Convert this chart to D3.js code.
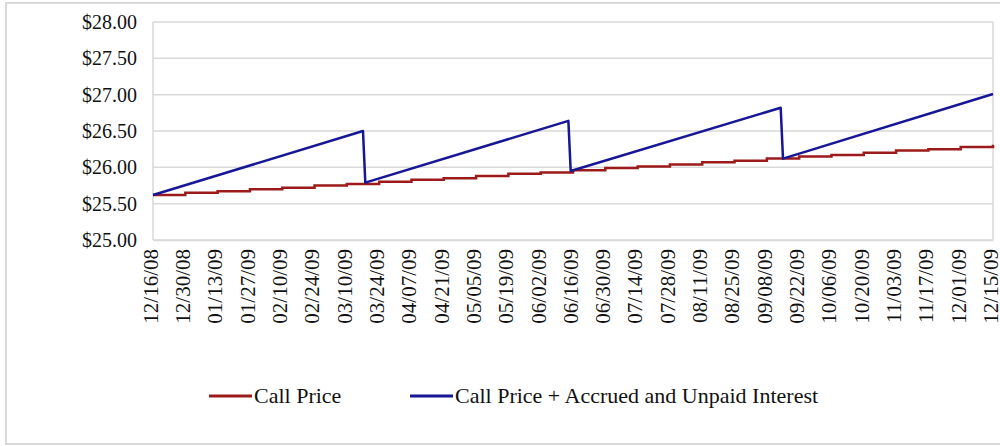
<!DOCTYPE html>
<html>
<head>
<meta charset="utf-8">
<script src="https://cdn.jsdelivr.net/npm/d3@7"></script>
<style>
  body { margin: 0; background: #fff; }
  svg { display: block; font-family: "Liberation Serif", "DejaVu Serif", serif; }
</style>
</head>
<body>
<svg id="svg"></svg>
<script>
// tick labels on the x axis (every two weeks)
var tickLabels = ['12/16/08', '12/30/08', '01/13/09', '01/27/09', '02/10/09', '02/24/09', '03/10/09',
  '03/24/09', '04/07/09', '04/21/09', '05/05/09', '05/19/09', '06/02/09', '06/16/09', '06/30/09',
  '07/14/09', '07/28/09', '08/11/09', '08/25/09', '09/08/09', '09/22/09', '10/06/09', '10/20/09',
  '11/03/09', '11/17/09', '12/01/09', '12/15/09'];

var yTicks = [25, 25.5, 26, 26.5, 27, 27.5, 28];

// Call Price, read at each biweekly date
var callDates = tickLabels;
var callPrice = [25.62, 25.65, 25.67, 25.70, 25.72, 25.75, 25.77, 25.80, 25.83, 25.85, 25.88, 25.91,
  25.93, 25.96, 25.99, 26.01, 26.04, 26.07, 26.09, 26.12, 26.15, 26.17, 26.20, 26.23, 26.25, 26.28, 26.31];

// Call Price + Accrued and Unpaid Interest (resets on coupon dates)
var accruedDates = ['12/16/08', '03/17/09', '03/18/09', '06/14/09', '06/15/09', '09/14/09', '09/15/09', '12/15/09'];
var accruedPrice = [25.62, 26.50, 25.79, 26.64, 25.95, 26.82, 26.12, 27.01];

var seriesNames = ['Call Price', 'Call Price + Accrued and Unpaid Interest'];
var seriesColors = ['#9c1a1a', '#161696'];

var W = 1000, H = 446;
var plot = { left: 153, right: 993, top: 22, bottom: 240 };

var parse = d3.timeParse('%m/%d/%y');

var s = d3.select('#svg').attr('width', W).attr('height', H);

// outer frame
s.append('rect')
  .attr('x', 6).attr('y', 3).attr('width', 1010).attr('height', 441)
  .attr('fill', '#fff').attr('stroke', '#d9d9d9').attr('stroke-width', 2);

var scaleX = d3.scaleTime()
  .domain([parse(tickLabels[0]), parse(tickLabels[tickLabels.length - 1])])
  .range([plot.left, plot.right]);

var scaleY = d3.scaleLinear()
  .domain([25, 28])
  .range([plot.bottom, plot.top]);

// grid lines
s.append('g').selectAll('line')
  .data(yTicks)
  .enter()
  .append('line')
  .attr('x1', plot.left).attr('x2', plot.right)
  .attr('y1', function (d) { return scaleY(d); })
  .attr('y2', function (d) { return scaleY(d); })
  .attr('stroke', '#d9d9d9').attr('stroke-width', 1.5);

// plot frame sides
s.append('line')
  .attr('x1', plot.left).attr('x2', plot.left)
  .attr('y1', plot.top).attr('y2', plot.bottom)
  .attr('stroke', '#d9d9d9').attr('stroke-width', 1.5);
s.append('line')
  .attr('x1', plot.right).attr('x2', plot.right)
  .attr('y1', plot.top).attr('y2', plot.bottom)
  .attr('stroke', '#d9d9d9').attr('stroke-width', 1.5);

// y axis
var axisY = d3.axisLeft(scaleY)
  .tickValues(yTicks)
  .tickSize(0)
  .tickPadding(16)
  .tickFormat(function (d) { return '$' + d3.format('.2f')(d); });

var gy = s.append('g')
  .attr('transform', 'translate(' + plot.left + ',0)')
  .call(axisY);
gy.select('.domain').remove();
gy.selectAll('text')
  .attr('font-size', 20)
  .attr('font-family', '"Liberation Serif", serif')
  .attr('fill', '#111');

// x axis, rotated labels
var axisX = d3.axisBottom(scaleX)
  .tickValues(tickLabels.map(parse))
  .tickSize(0)
  .tickFormat(d3.timeFormat('%m/%d/%y'));

var gx = s.append('g')
  .attr('transform', 'translate(0,' + plot.bottom + ')')
  .call(axisX);
gx.select('.domain')
  .attr('stroke', '#d9d9d9').attr('stroke-width', 1.5);
gx.selectAll('text')
  .attr('font-size', 21)
  .attr('font-family', '"Liberation Serif", serif')
  .attr('fill', '#111')
  .attr('text-anchor', 'end')
  .attr('transform', 'rotate(-90)')
  .attr('x', -9)
  .attr('y', -3)
  .attr('dy', '0.35em');

// lines
var line = d3.line()
  .x(function (d) { return scaleX(d.date); })
  .y(function (d) { return scaleY(d.value); });

var callData = callDates.map(function (d, i) { return { date: parse(d), value: callPrice[i] }; });
var accruedData = accruedDates.map(function (d, i) { return { date: parse(d), value: accruedPrice[i] }; });

s.append('path')
  .datum(callData)
  .attr('d', line.curve(d3.curveStepAfter))
  .attr('fill', 'none')
  .attr('stroke', seriesColors[0])
  .attr('stroke-width', 2.5);

s.append('path')
  .datum(accruedData)
  .attr('d', line.curve(d3.curveLinear))
  .attr('fill', 'none')
  .attr('stroke', seriesColors[1])
  .attr('stroke-width', 2.5)
  .attr('stroke-linejoin', 'round');

// legend
var legendX = [209, 410];
var lg = s.append('g');
seriesNames.forEach(function (name, i) {
  lg.append('line')
    .attr('x1', legendX[i]).attr('x2', legendX[i] + 43)
    .attr('y1', 396).attr('y2', 396)
    .attr('stroke', seriesColors[i]).attr('stroke-width', 3);
  lg.append('text')
    .attr('x', legendX[i] + 45)
    .attr('y', 403)
    .attr('font-size', 22)
    .attr('fill', '#111')
    .text(name);
});
</script>
</body>
</html>
